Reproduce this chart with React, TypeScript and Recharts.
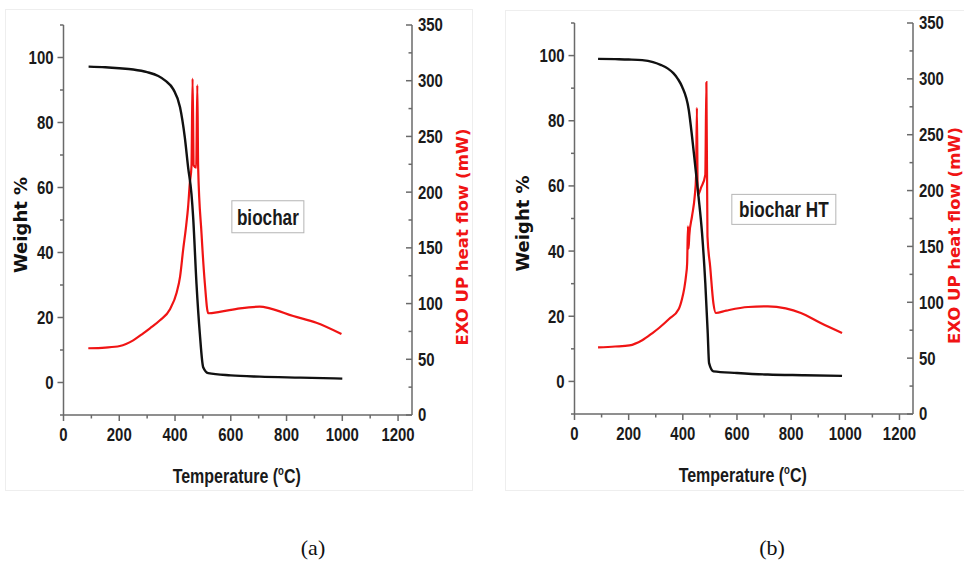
import React from "react";
import { LineChart, Line, XAxis, YAxis, ReferenceDot } from "recharts";

// axis ticks
const tempTicks = [0, 100, 200, 300, 400, 500, 600, 700, 800, 900, 1000, 1100, 1200];
const weightTicks = [-10, 0, 10, 20, 30, 40, 50, 60, 70, 80, 90, 100, 110];
const heatTicks = [0, 25, 50, 75, 100, 125, 150, 175, 200, 225, 250, 275, 300, 325, 350];

// (a) biochar - TGA weight
const weightTempA = [90, 150, 200, 250, 300, 340, 365, 394, 418, 435, 447, 459, 465, 477, 489, 501, 519, 600, 704, 850, 1000];
const weightA = [97.2, 97.0, 96.7, 96.3, 95.5, 94.3, 92.9, 90.2, 84.7, 75.5, 66.2, 58, 50.9, 30.4, 15, 4.7, 2.9, 2.2, 1.8, 1.5, 1.2];

// (a) biochar - heat flow
const heatTempA = [89, 150, 202, 250, 286, 310, 346, 382, 406, 418, 429, 440, 447, 453, 459, 463, 467, 476, 480, 483, 495, 507, 519, 560, 633, 704, 740, 824, 907, 997];
const heatA = [59.9, 60.5, 61.9, 67, 73.3, 77.8, 85, 95, 110, 124, 148, 170, 187, 208, 223, 302, 224, 222, 296, 222, 163, 118, 91.3, 92.5, 95.7, 97.2, 95.7, 88.8, 82.8, 72.7];

// (b) biochar HT - TGA weight
const weightTempB = [87, 150, 200, 250, 290, 320, 345, 365, 382, 397, 422, 434, 446, 458, 471, 483, 492, 497, 513, 600, 714, 850, 988];
const weightB = [99, 98.9, 98.8, 98.6, 98.0, 97.1, 96.0, 94.6, 92.8, 90.5, 83.3, 75.2, 66, 56.7, 45.5, 30.2, 14.8, 5.6, 3.1, 2.6, 2.1, 1.9, 1.7];

// (b) biochar HT - heat flow
const heatTempB = [87, 150, 203, 250, 288, 312, 349, 385, 397, 405, 412, 416, 419, 421, 424, 434, 444, 449, 452, 455, 468, 483, 487, 491, 501, 513, 522, 560, 641, 714, 780, 836, 909, 988];
const heatB = [59.6, 60.4, 61.4, 66, 72.5, 77, 85, 94, 103, 112, 124, 135, 168, 148, 160, 177, 195, 213, 274, 196, 203, 214, 297, 159, 132, 99, 90.4, 92.5, 95.8, 96.3, 94.5, 90.4, 81.4, 72.5];

const SANS = '"Liberation Sans", Arial, sans-serif';
const DEJAVU = '"DejaVu Sans", Verdana, sans-serif';
const AXIS = "#6a6a6a";
const RED = "#f01414";

const toRows = (xs: number[], ys: number[]) => xs.map((t, i) => ({ t, v: ys[i] }));

// Arial-narrow look: bold Liberation Sans squeezed horizontally
function Narrow(props: { x: number; y: number; anchor: "start" | "middle" | "end"; size: number; sx: number; dy?: string; children: React.ReactNode }) {
  return (
    <text
      transform={`translate(${props.x} ${props.y}) scale(${props.sx} 1)`}
      x={0}
      y={0}
      dy={props.dy}
      textAnchor={props.anchor}
      fontFamily={SANS}
      fontWeight="bold"
      fontSize={props.size}
      fill="#1a1a1a"
    >
      {props.children}
    </text>
  );
}

const leftTick = (p: any) => {
  const v = p.payload.value;
  const major = v % 20 === 0;
  const ax = p.x + 10;
  return (
    <g>
      <line x1={ax - (major ? 6 : 3.5)} x2={ax} y1={p.y} y2={p.y} stroke={AXIS} strokeWidth={1.5} />
      {major && <Narrow x={p.x} y={p.y} dy="0.36em" anchor="end" size={18} sx={0.83}>{v}</Narrow>}
    </g>
  );
};

const rightTick = (p: any) => {
  const v = p.payload.value;
  const major = v % 50 === 0;
  const ax = p.x - 6;
  return (
    <g>
      <line x1={ax - (major ? 6 : 3.5)} x2={ax} y1={p.y} y2={p.y} stroke={AXIS} strokeWidth={1.5} />
      {major && <Narrow x={p.x} y={p.y} dy="0.36em" anchor="start" size={18} sx={0.83}>{v}</Narrow>}
    </g>
  );
};

const bottomTick = (p: any) => {
  const v = p.payload.value;
  const major = v % 200 === 0;
  const ay = p.y - 13;
  return (
    <g>
      <line x1={p.x} x2={p.x} y1={ay} y2={ay + (major ? 6 : 3.5)} stroke={AXIS} strokeWidth={1.5} />
      {major && <Narrow x={p.x} y={p.y} dy="0.71em" anchor="middle" size={18} sx={0.83}>{v}</Narrow>}
    </g>
  );
};

const tempLabel = (props: any) => {
  const vb = props.viewBox;
  return (
    <Narrow x={vb.x + vb.width / 2 - 1} y={vb.y + 68} anchor="middle" size={20} sx={0.8}>
      Temperature (<tspan fontSize={12} dy={-8}>o</tspan>
      <tspan dy={8}>C)</tspan>
    </Narrow>
  );
};

const weightLabel = (dx: number) => (props: any) => {
  const vb = props.viewBox;
  const cx = vb.x + dx;
  const cy = vb.y + vb.height / 2 + 5;
  return (
    <text x={cx} y={cy} transform={`rotate(-90 ${cx} ${cy})`} textAnchor="middle" dominantBaseline="central" fontFamily={DEJAVU} fontWeight="bold" fontSize={18} fill="#111">
      Weight %
    </text>
  );
};

const heatLabel = (dx: number) => (props: any) => {
  const vb = props.viewBox;
  const cx = vb.x + dx;
  const cy = vb.y + vb.height / 2 + 17;
  return (
    <text x={cx} y={cy} transform={`rotate(-90 ${cx} ${cy})`} textAnchor="middle" dominantBaseline="central" fontFamily={DEJAVU} fontWeight="bold" fontSize={16.5} fill={RED}>
      EXO UP heat flow (mW)
    </text>
  );
};

const boxLabel = (text: string, w: number, h: number) => (props: any) => {
  const vb = props.viewBox;
  const cx = vb.x + vb.width / 2;
  const cy = vb.y + vb.height / 2;
  return (
    <g>
      <rect x={cx - w / 2} y={cy - h / 2} width={w} height={h} fill="#fff" stroke="#b5b5b5" strokeWidth={1} />
      <Narrow x={cx} y={cy} dy="0.36em" anchor="middle" size={22} sx={0.78}>{text}</Narrow>
    </g>
  );
};

interface PanelProps {
  width: number;
  top: number;
  rightMargin: number;
  xHeight: number;
  rightWidth: number;
  weightRows: { t: number; v: number }[];
  heatRows: { t: number; v: number }[];
  title: string;
  boxAt: [number, number];
  boxSize: [number, number];
  weightDx: number;
  heatDx: number;
}

function Panel(p: PanelProps) {
  return (
    <LineChart width={p.width} height={500} margin={{ top: p.top, right: p.rightMargin, bottom: 0, left: 0 }}>
      <XAxis
        dataKey="t"
        type="number"
        domain={[0, 1250]}
        ticks={tempTicks}
        interval={0}
        height={p.xHeight}
        tickSize={6}
        tickMargin={7}
        tickLine={false}
        tick={bottomTick}
        axisLine={{ stroke: AXIS, strokeWidth: 1.5 }}
        label={tempLabel}
      />
      <YAxis
        yAxisId="w"
        type="number"
        domain={[-10, 110]}
        ticks={weightTicks}
        interval={0}
        width={63.5}
        tickSize={6}
        tickMargin={4}
        tickLine={false}
        tick={leftTick}
        axisLine={{ stroke: AXIS, strokeWidth: 1.5 }}
        label={weightLabel(p.weightDx)}
      />
      <YAxis
        yAxisId="h"
        orientation="right"
        type="number"
        domain={[0, 350]}
        ticks={heatTicks}
        interval={0}
        width={p.rightWidth}
        tickSize={0}
        tickMargin={6}
        tickLine={false}
        tick={rightTick}
        axisLine={{ stroke: AXIS, strokeWidth: 1.5 }}
        label={heatLabel(p.heatDx)}
      />
      <Line yAxisId="h" data={p.heatRows} dataKey="v" type="monotone" stroke={RED} strokeWidth={2.2} dot={false} isAnimationActive={false} />
      <Line yAxisId="w" data={p.weightRows} dataKey="v" type="monotone" stroke="#111" strokeWidth={2.4} dot={false} isAnimationActive={false} />
      <ReferenceDot
        yAxisId="w"
        x={p.boxAt[0]}
        y={p.boxAt[1]}
        r={0}
        fill="none"
        stroke="none"
        label={boxLabel(p.title, p.boxSize[0], p.boxSize[1])}
      />
    </LineChart>
  );
}

export default function App() {
  return (
    <div style={{ position: "absolute", left: 0, top: 0, width: 964, height: 561, background: "#fff", overflow: "hidden" }}>
      <div style={{ position: "absolute", left: 5, top: 9, width: 466, height: 480, border: "1px solid #eeeeee" }} />
      <div style={{ position: "absolute", left: 505, top: 10, width: 470, height: 479, border: "1px solid #eeeeee" }} />
      <div style={{ position: "absolute", left: 0, top: 0 }}>
        <Panel
          width={480}
          top={25}
          rightMargin={8}
          xHeight={85}
          rightWidth={60}
          weightRows={toRows(weightTempA, weightA)}
          heatRows={toRows(heatTempA, heatA)}
          title="biochar"
          boxAt={[733, 51]}
          boxSize={[72, 32]}
          weightDx={20}
          heatDx={50}
        />
      </div>
      <div style={{ position: "absolute", left: 511, top: 0 }}>
        <Panel
          width={453}
          top={23}
          rightMargin={1}
          xHeight={86}
          rightWidth={50}
          weightRows={toRows(weightTempB, weightB)}
          heatRows={toRows(heatTempB, heatB)}
          title="biochar HT"
          boxAt={[773, 52.8]}
          boxSize={[104, 30]}
          weightDx={11}
          heatDx={41}
        />
      </div>
      <div style={{ position: "absolute", left: 313, top: 548, transform: "translate(-50%, -50%)", fontFamily: '"Liberation Serif", "Times New Roman", serif', fontSize: 22, color: "#111" }}>
        (a)
      </div>
      <div style={{ position: "absolute", left: 772, top: 548, transform: "translate(-50%, -50%)", fontFamily: '"Liberation Serif", "Times New Roman", serif', fontSize: 22, color: "#111" }}>
        (b)
      </div>
    </div>
  );
}
